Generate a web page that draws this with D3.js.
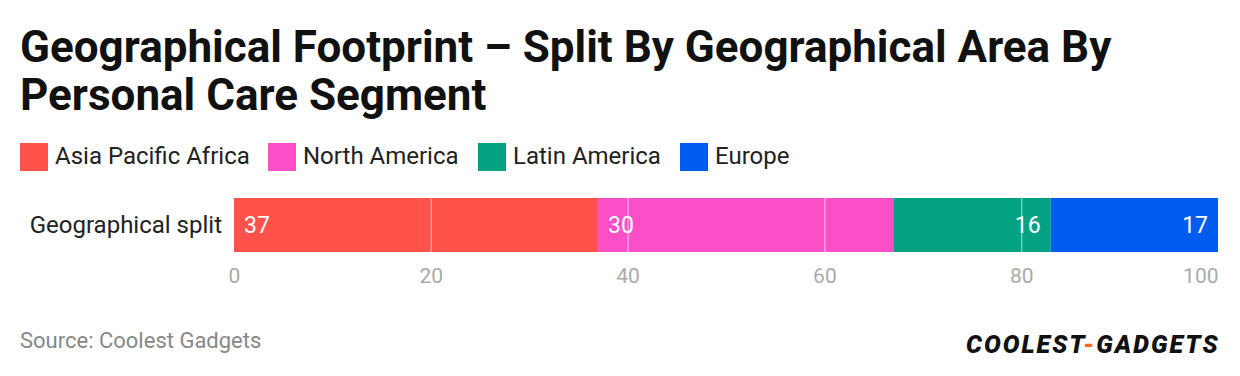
<!DOCTYPE html>
<html>
<head>
<meta charset="utf-8">
<script src="https://cdn.jsdelivr.net/npm/d3@7"></script>
<style>
  body { margin: 0; background: #fff; }
  svg text { font-family: Roboto, "Noto Sans", sans-serif; }
</style>
</head>
<body>
<div id="chart"></div>
<script>
const categories = ['Geographical split']
const seriesNames = ['Asia Pacific Africa', 'North America', 'Latin America', 'Europe']
const seriesValues = [37, 30, 16, 17]
const seriesColors = ['#ff524b', '#fb4fc8', '#02a283', '#005bef']
const tickValues = [0, 20, 40, 60, 80, 100]

const width = 1240, height = 376
const margin = { top: 198, left: 234, right: 22, bottom: 124 }

const svg = d3.select('#chart').append('svg')
    .attr('width', width)
    .attr('height', height)

// title
const title = svg.append('text')
    .attr('x', 20)
    .attr('y', 62)
    .style('font-size', '44px')
    .style('font-weight', 700)
    .attr('fill', '#111')
title.append('tspan').attr('x', 20).text('Geographical Footprint – Split By Geographical Area By')
title.append('tspan').attr('x', 20).attr('dy', 48).text('Personal Care Segment')

// legend
const legendX = [20, 268, 478, 680]
const legend = svg.append('g')
seriesNames.forEach((name, i) => {
    const g = legend.append('g').attr('transform', `translate(${legendX[i]}, 143)`)
    g.append('rect').attr('width', 28).attr('height', 28).attr('fill', seriesColors[i])
    g.append('text')
        .attr('x', 35)
        .attr('y', 21)
        .style('font-size', '24px')
        .attr('fill', '#222')
        .text(name)
})

const xScale = d3.scaleLinear()
    .domain([0, 100])
    .range([margin.left, width - margin.right])
const yScale = d3.scaleBand()
    .domain(categories)
    .range([margin.top, height - margin.bottom])
    .padding(0)

// stack
let acc = 0
const stacked = seriesValues.map((v, i) => {
    const d = { name: seriesNames[i], value: v, x0: acc, x1: acc + v, color: seriesColors[i] }
    acc += v
    return d
})

const barG = svg.append('g')
barG.selectAll('rect')
    .data(stacked)
    .enter()
    .append('rect')
    .attr('x', d => xScale(d.x0))
    .attr('y', yScale(categories[0]))
    .attr('width', d => xScale(d.x1) - xScale(d.x0))
    .attr('height', yScale.bandwidth())
    .attr('fill', d => d.color)

// gridlines on top of bars
svg.append('g')
    .selectAll('line')
    .data(tickValues.filter(t => t > 0 && t < 100))
    .enter()
    .append('line')
    .attr('x1', d => xScale(d) + 0.5)
    .attr('x2', d => xScale(d) + 0.5)
    .attr('y1', yScale(categories[0]))
    .attr('y2', yScale(categories[0]) + yScale.bandwidth())
    .attr('stroke', 'rgba(255,255,255,0.45)')
    .attr('stroke-width', 1.5)

// value labels: first two at start, last two at end
barG.selectAll('.val')
    .data(stacked)
    .enter()
    .append('text')
    .attr('class', 'val')
    .attr('x', (d, i) => i < 2 ? xScale(d.x0) + 10 : xScale(d.x1) - 10)
    .attr('y', yScale(categories[0]) + yScale.bandwidth() / 2 + 8)
    .attr('text-anchor', (d, i) => i < 2 ? 'start' : 'end')
    .style('font-size', '23px')
    .attr('fill', '#fff')
    .text(d => d.value)

// category label
svg.append('text')
    .attr('x', margin.left - 12)
    .attr('y', yScale(categories[0]) + yScale.bandwidth() / 2 + 8)
    .attr('text-anchor', 'end')
    .style('font-size', '24px')
    .attr('fill', '#222')
    .text(categories[0])

// x axis
const xAxis = svg.append('g')
    .attr('transform', `translate(0, ${height - margin.bottom})`)
    .call(d3.axisBottom(xScale).tickValues(tickValues).tickSize(0).tickPadding(16))
xAxis.select('.domain').remove()
xAxis.selectAll('text')
    .style('font-size', '21px')
    .style('font-family', 'Roboto, sans-serif')
    .attr('fill', '#aaa')
    .attr('text-anchor', d => d === 100 ? 'end' : 'middle')

// source
svg.append('text')
    .attr('x', 20)
    .attr('y', 348)
    .style('font-size', '22px')
    .attr('fill', '#888')
    .text('Source: Coolest Gadgets')

// logo
const logo = svg.append('text')
    .attr('x', 966)
    .attr('y', 353)
    .style('font-size', '25px')
    .style('font-weight', 900)
    .style('font-style', 'italic')
    .style('letter-spacing', '2px')
    .attr('fill', '#111')
logo.append('tspan').text('COOLEST')
logo.append('tspan').attr('fill', '#f26b21').text('-')
logo.append('tspan').text('GADGETS')
</script>
</body>
</html>
